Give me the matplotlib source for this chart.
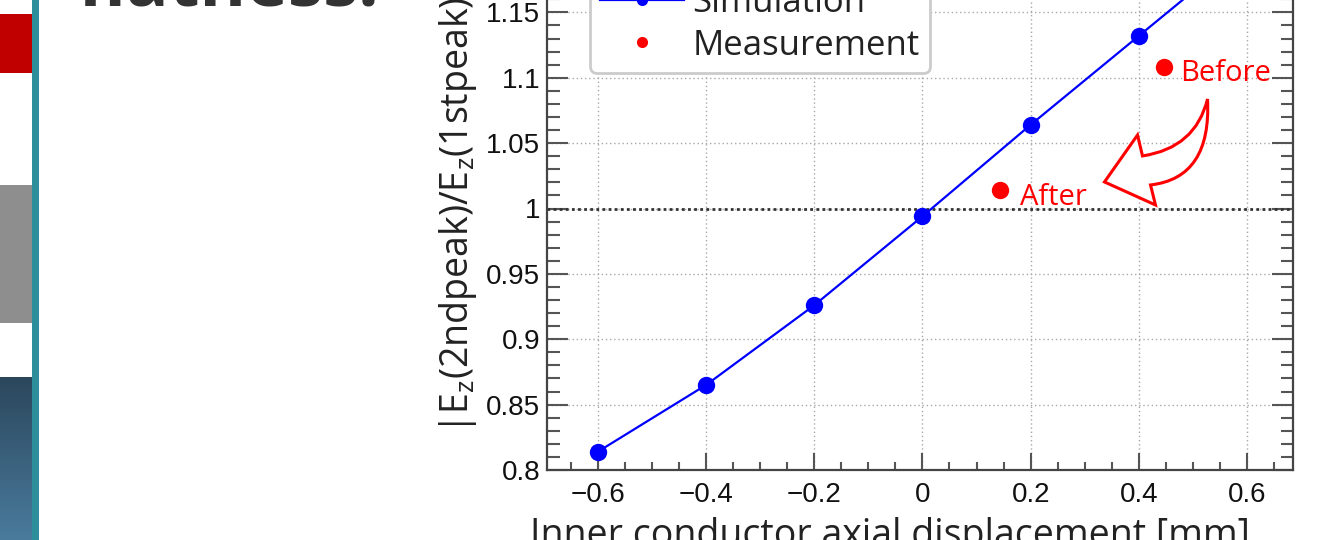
import numpy as np
import matplotlib
matplotlib.use("Agg")
import matplotlib.pyplot as plt
from matplotlib.patches import Rectangle, PathPatch
from matplotlib.path import Path
from matplotlib.lines import Line2D
from matplotlib.ticker import MultipleLocator, FixedLocator, FuncFormatter
from matplotlib.colors import LinearSegmentedColormap

# ---------------- data ----------------
sim_x = [-0.6, -0.4, -0.2, 0.0, 0.2, 0.4, 0.6]
sim_y = [0.814, 0.865, 0.926, 0.994, 1.064, 1.132, 1.200]
meas_x = [0.446, 0.143]
meas_y = [1.108, 1.014]
meas_labels = ["Before", "After"]
x_ticks = [-0.6, -0.4, -0.2, 0.0, 0.2, 0.4, 0.6]
y_ticks = [0.8, 0.85, 0.9, 0.95, 1.0, 1.05, 1.1, 1.15]
legend_labels = ["Simulation", "Measurement"]
x_label = "Inner conductor axial displacement [mm]"
y_label = r"|E$_\mathregular{z}$(2ndpeak)/E$_\mathregular{z}$(1stpeak)|"
title_text = "flatness."

# curved block arrow (data coordinates)
arrow_verts = [(0.527, 1.0837), (0.5344, 1.0233), (0.4216, 1.0180),
               (0.4308, 1.0027), (0.3365, 1.0203), (0.3976, 1.0562),
               (0.4068, 1.0402), (0.5048, 1.0463), (0.527, 1.0837),
               (0.527, 1.0837)]
arrow_codes = [Path.MOVETO, Path.CURVE3, Path.CURVE3, Path.LINETO, Path.LINETO,
               Path.LINETO, Path.LINETO, Path.CURVE3, Path.CURVE3, Path.CLOSEPOLY]

plt.rcParams['mathtext.default'] = 'regular'

W, H = 1330, 540
fig = plt.figure(figsize=(W / 100, H / 100), dpi=100)
fig.patch.set_facecolor('white')

# ---------------- slide decorations ----------------
def px_rect(x0, y0, x1, y1, color, z=1):
    r = Rectangle((x0 / W, 1 - y1 / H), (x1 - x0) / W, (y1 - y0) / H,
                  transform=fig.transFigure, facecolor=color, edgecolor='none', zorder=z)
    fig.add_artist(r)

px_rect(0, 14, 39, 73, '#c00000')
px_rect(0, 185, 39, 323, '#8e8e8e')
gax = fig.add_axes([0, 0, 39 / W, (540 - 377) / H])
grad = np.linspace(0, 1, 200).reshape(-1, 1)
cmap = LinearSegmentedColormap.from_list('g', ['#2b475c', '#4a7b9d'])
gax.imshow(grad, aspect='auto', cmap=cmap, extent=[0, 1, 0, 1], origin='upper')
gax.set_axis_off()
px_rect(32, 0, 38.5, 540, '#2e8f9c', z=5)

fig.text(78 / W, 1 - 5 / H, title_text, fontsize=51, fontweight='bold',
         family='Open Sans', color='#333333', ha='left', va='baseline')

# ---------------- chart ----------------
ax = fig.add_axes([547 / W, 70 / H, (1293 - 547) / W, (470 + 53) / H])
ax.set_xlim(-0.694, 0.685)
ax.set_ylim(0.8, 1.2)

ax.xaxis.set_major_locator(FixedLocator(x_ticks))
ax.xaxis.set_minor_locator(MultipleLocator(0.05))
ax.yaxis.set_major_locator(FixedLocator(y_ticks))
ax.yaxis.set_minor_locator(MultipleLocator(0.01))

def fmt(v, pos):
    s = '%g' % round(v, 3)
    return s.replace('-', '\u2212')
ax.xaxis.set_major_formatter(FuncFormatter(fmt))
ax.yaxis.set_major_formatter(FuncFormatter(fmt))

ax.grid(True, which='major', color='#a8a8a8', linestyle=(0, (1, 2)), linewidth=1.0)
ax.tick_params(which='both', direction='in', top=True, right=True,
               color='#555555', width=1.5)
ax.tick_params(axis='y', which='major', length=15)
ax.tick_params(axis='y', which='minor', length=9)
ax.tick_params(axis='x', which='major', length=12)
ax.tick_params(axis='x', which='minor', length=6)
ax.tick_params(axis='y', pad=5, labelsize=20, labelcolor='#111111')
ax.tick_params(axis='x', pad=9, labelsize=20, labelcolor='#111111')
for lab in ax.get_xticklabels() + ax.get_yticklabels():
    lab.set_family('Liberation Sans')
for s in ax.spines.values():
    s.set_color('#444444')
    s.set_linewidth(1.6)

ax.axhline(1.0, color='#333333', linestyle=(0, (1, 1.2)), linewidth=2.0, zorder=2)

ax.plot(sim_x, sim_y, color='#0000ff', linewidth=1.6, marker='o', markersize=12.5,
        markeredgewidth=0, zorder=4)
ax.plot(meas_x, meas_y, linestyle='none', color='#ff0000', marker='o', markersize=12.5,
        markeredgewidth=0, zorder=4)

ax.text(0.477, 1.0975, meas_labels[0], color='#ff0000', fontsize=21,
        family='Open Sans', ha='left', va='baseline', zorder=6)
ax.text(0.181, 1.0027, meas_labels[1], color='#ff0000', fontsize=21,
        family='Open Sans', ha='left', va='baseline', zorder=6)

arrow = PathPatch(Path(arrow_verts, arrow_codes), facecolor='white',
                  edgecolor='#ff0000', linewidth=2.2, zorder=5, joinstyle='miter')
ax.add_patch(arrow)

handles = [Line2D([], [], color='#0000ff', linewidth=1.6, marker='o', markersize=8,
                  markeredgewidth=0),
           Line2D([], [], color='#ff0000', linestyle='none', marker='o', markersize=8,
                  markeredgewidth=0)]
leg = ax.legend(handles, legend_labels, loc='lower left',
                bbox_to_anchor=((590 - 547) / 746, (470 - 73) / 523),
                borderaxespad=0, prop={'family': 'Open Sans', 'size': 25},
                handlelength=2.4, handletextpad=0.25, labelspacing=0.25,
                borderpad=0.3, fancybox=True, framealpha=1,
                edgecolor='#cccccc', labelcolor='#222222')
leg.get_frame().set_linewidth(2)
leg.set_zorder(7)

ax.set_ylabel(y_label, fontsize=27, family='Open Sans', color='#222222', va='center')
ax.yaxis.set_label_coords((458 - 547) / 746, 0.5)
ax.set_xlabel(x_label, fontsize=27, family='Open Sans', color='#222222', va='baseline')
ax.xaxis.set_label_coords((890 - 547) / 746, (470 - 546) / 523)

fig.savefig('out.png', dpi=100)
